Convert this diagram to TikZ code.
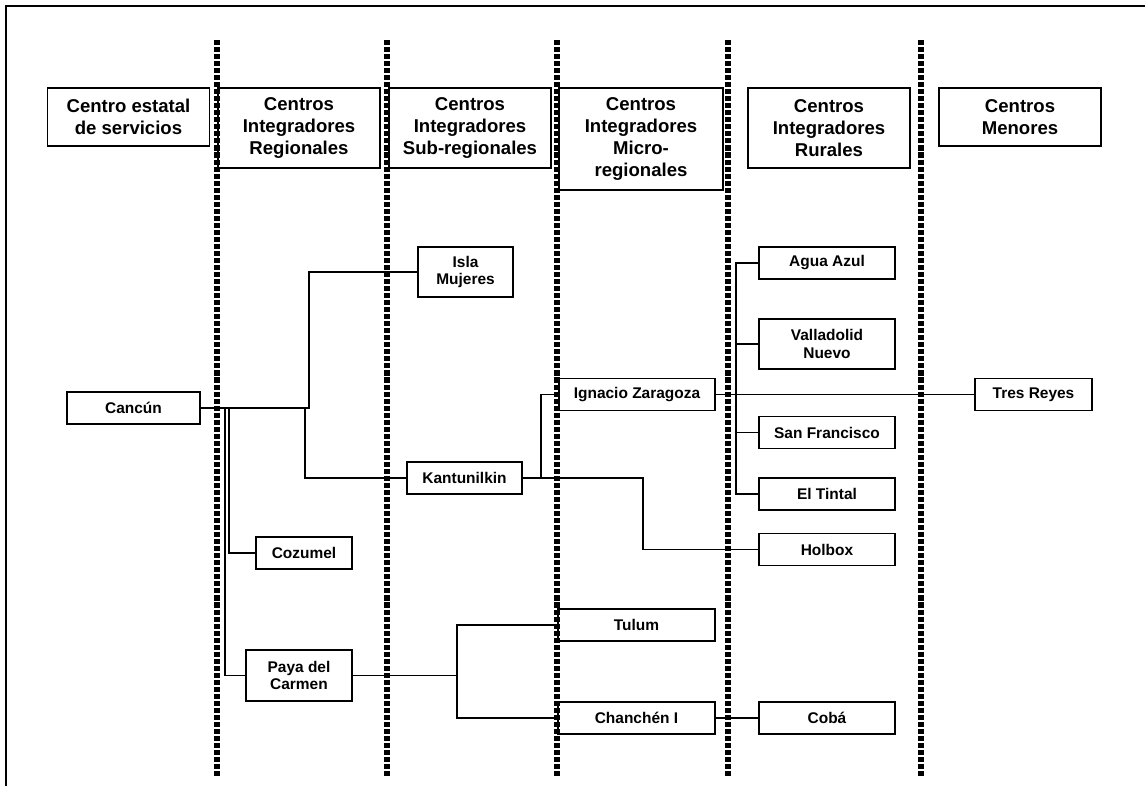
\documentclass[tikz,border=0pt]{standalone}
\usepackage{fontspec}
\setmainfont{Liberation Sans}

\begin{document}
\begin{tikzpicture}[x=0.025cm,y=-0.025cm,
        columna/.style={line width=3.8pt,dash pattern=on 3.6pt off 1.4pt},
        titulo/.style={draw,line width=1.2pt,align=center,inner sep=0pt,
            minimum width=4.05cm,minimum height=1.45cm,
            font=\bfseries\fontsize{13.2}{15.6}\selectfont},
        centro/.style={draw,line width=1.2pt,align=center,inner sep=0pt,
            minimum height=0.8cm,font=\bfseries\fontsize{11}{12.6}\selectfont},
        enlace/.style={line width=1.1pt}]

        \useasboundingbox (0,0) rectangle (1145,786);

        % frame
            \draw[line width=1.4pt] (6,786) -- (6,6) -- (1145,6);

        % column separators
            \foreach \x in {217,387,557,728,921}
                \draw[columna] (\x,40) -- (\x,777);

        % column titles
            \node[titulo] (estatal) at (128.5,117) {Centro estatal\\de servicios};
            \node[titulo,minimum height=2cm] (regional) at (299,128) {Centros\\Integradores\\Regionales};
            \node[titulo,minimum height=2cm] (subreg) at (470,128) {Centros\\Integradores\\Sub-regionales};
            \node[titulo,minimum width=4.1cm,minimum height=2.55cm] (microreg) at (641,139) {Centros\\Integradores\\Micro-\\regionales};
            \node[titulo,minimum height=2cm] (rural) at (829,128) {Centros\\Integradores\\Rurales};
            \node[titulo] (menor) at (1020,117) {Centros\\Menores};

        % centers
            \node[centro,minimum width=3.325cm] (cancun) at (133.5,408) {Cancún};
            \node[centro,minimum width=2.375cm,minimum height=1.25cm] (isla) at (465.5,272) {Isla\\Mujeres};
            \node[centro,minimum width=2.875cm] (kantun) at (464.5,478) {Kantunilkin};
            \node[centro,minimum width=2.4cm] (cozumel) at (304,553) {Cozumel};
            \node[centro,minimum width=2.65cm,minimum height=1.275cm] (paya) at (299,675.5) {Paya del\\Carmen};
            \node[centro,minimum width=3.9cm] (ignacio) at (637,394.5) {Ignacio Zaragoza};
            \node[centro,minimum width=3.925cm] (tulum) at (636.5,625) {Tulum};
            \node[centro,minimum width=3.925cm] (chanchen) at (636.5,718) {Chanchén I};
            \node[centro,minimum width=3.4cm] (agua) at (827,263) {Agua Azul};
            \node[centro,minimum width=3.4cm,minimum height=1.25cm] (valla) at (827,344) {Valladolid\\Nuevo};
            \node[centro,minimum width=3.4cm] (sanfco) at (827,432.5) {San Francisco};
            \node[centro,minimum width=3.4cm] (tintal) at (827,494) {El Tintal};
            \node[centro,minimum width=3.4cm] (holbox) at (827,549.5) {Holbox};
            \node[centro,minimum width=3.4cm] (coba) at (827,718) {Cobá};
            \node[centro,minimum width=2.925cm] (tres) at (1033.5,394.5) {Tres Reyes};

        % links
            \draw[enlace] (cancun.east) -- ++(108,0) |- (isla.west);
            \draw[enlace] (cancun.east) -- ++(104,0) |- (kantun.west);
            \draw[enlace] (cancun.east) -- ++(28,0) |- (cozumel.west);
            \draw[enlace] (cancun.east) -- ++(24,0) |- (paya.west);
            \draw[enlace] (paya.east) -- ++(104,0) coordinate (jpaya) |- (tulum.west);
            \draw[enlace] (jpaya) |- (chanchen.west);
            \draw[enlace] (kantun.east) -- ++(18,0) |- (ignacio.west);
            \draw[enlace] (kantun.east) -- ++(120,0) |- (holbox.west);
            \draw[enlace] (ignacio) -- (tres);
            \draw[enlace] (agua.west) -- ++(-22,0) |- (tintal.west);
            \foreach \n in {valla,sanfco}
                \draw[enlace] (\n.west) -- ++(-22,0);
            \draw[enlace] (chanchen) -- (coba);

\end{tikzpicture}
\end{document}
